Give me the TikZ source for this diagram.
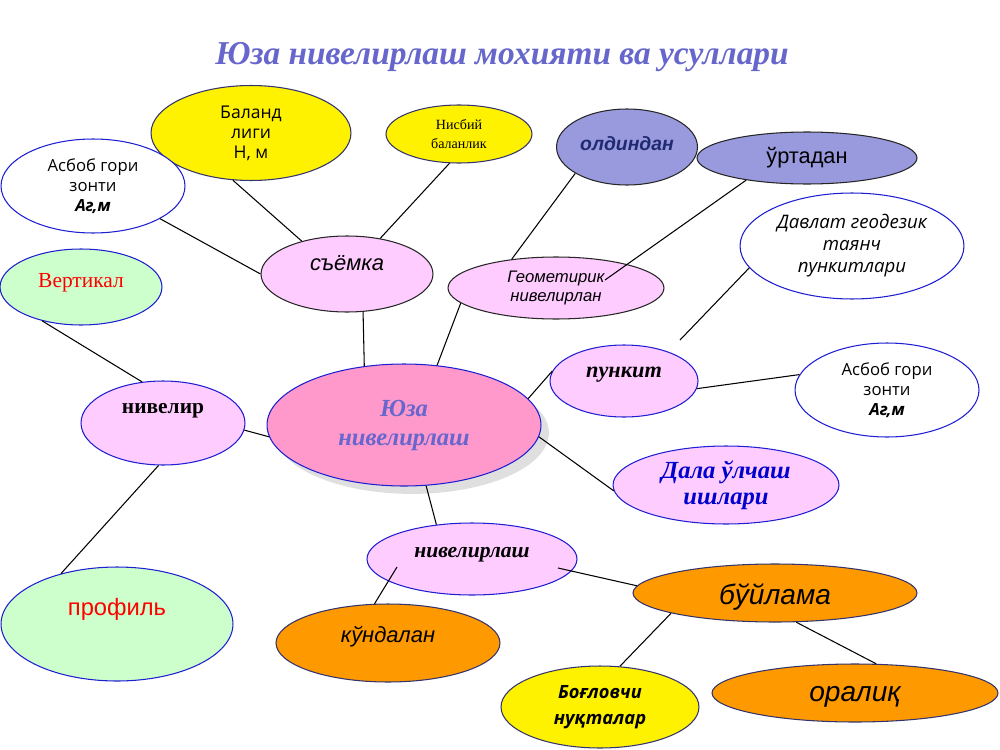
\documentclass[tikz,border=0pt]{standalone}
\usepackage{fontspec}
\setmainfont{Liberation Serif}
\newfontfamily\arialf{Liberation Sans}
\newfontfamily\opensf{Open Sans}
\usetikzlibrary{shapes.geometric, shadows}

\begin{document}
\begin{tikzpicture}[x=0.02cm, y=-0.02cm,
    bub/.style={ellipse, draw, line width=0.6pt, inner sep=0pt, align=center},
    link/.style={draw=black, line width=0.6pt}]

    % Define colors
    \definecolor{titleblue}{RGB}{102,102,204}
    \definecolor{edgeblue}{RGB}{30,30,210}
    \definecolor{edgenavy}{RGB}{51,51,110}
    \definecolor{pinkfill}{RGB}{255,204,255}
    \definecolor{corefill}{RGB}{255,153,204}
    \definecolor{greenfill}{RGB}{204,255,204}
    \definecolor{lilacfill}{RGB}{153,153,221}
    \definecolor{orangefill}{RGB}{255,153,0}
    \definecolor{navytext}{RGB}{31,42,112}
    \definecolor{dalatext}{RGB}{0,0,204}

    \useasboundingbox (0,0) rectangle (1000,750);

    % Title
    \node[text=titleblue, font=\fontsize{19}{22}\selectfont\bfseries\itshape] (title) at (502,57) {Юза нивелирлаш мохияти ва усуллари};

    % Nodes
    \node[bub, fill=corefill, draw=edgeblue, minimum width=5.48cm, minimum height=2.44cm,
          drop shadow={shadow xshift=4.5pt, shadow yshift=-4.5pt, fill=black!25},
          text=titleblue, font=\fontsize{14}{17}\selectfont\bfseries\itshape] (yuza) at (404,425)
          {\raisebox{9pt}{\begin{tabular}{@{}c@{}}Юза\\нивелирлаш\end{tabular}}};

    \node[bub, fill=yellow, draw=edgenavy, minimum width=4cm, minimum height=1.9cm,
          font=\opensf\fontsize{10}{11.4}\selectfont] (baland) at (251,133) {Баланд\\лиги\\Н, м};
    \node[bub, fill=white, draw=edgeblue, minimum width=3.68cm, minimum height=1.88cm,
          font=\opensf\fontsize{9.5}{11.3}\selectfont] (asbobL) at (93,186) {Асбоб гори\\зонти\\\textbf{\textit{Аг,м}}};
    \node[bub, fill=yellow, draw=edgenavy, minimum width=2.92cm, minimum height=1.16cm,
          font=\fontsize{8}{10.8}\selectfont] (nisbiy) at (459,134) {Нисбий\\баланлик};
    \node[bub, fill=lilacfill, draw=black!85, minimum width=2.82cm, minimum height=1.52cm,
          text=navytext, font=\arialf\fontsize{11}{13}\selectfont\bfseries\itshape] (oldindan) at (627,147) {\raisebox{4pt}{олдиндан}};
    \node[bub, fill=lilacfill, draw=black!85, minimum width=4.4cm, minimum height=1.04cm,
          font=\arialf\fontsize{12.4}{14}\selectfont] (urtadan) at (807,158) {ўртадан};
    \node[bub, fill=white, draw=edgeblue, minimum width=4.48cm, minimum height=2.12cm,
          font=\opensf\fontsize{10.6}{12.5}\selectfont\itshape] (davlat) at (852,246) {Давлат геодезик\\таянч\\пункитлари};
    \node[bub, fill=pinkfill, draw=black!85, minimum width=3.44cm, minimum height=1.52cm,
          font=\arialf\fontsize{12.5}{14}\selectfont\itshape] (syomka) at (347,274) {\raisebox{12pt}{съёмка}};
    \node[bub, fill=pinkfill, draw=black!85, minimum width=4.32cm, minimum height=1.24cm,
          font=\arialf\fontsize{9.5}{11.3}\selectfont\itshape] (geom) at (556,288) {Геометирик\\нивелирлан};
    \node[bub, fill=greenfill, draw=edgeblue, minimum width=3.24cm, minimum height=1.52cm,
          text=red, font=\fontsize{12.2}{14}\selectfont] (vertikal) at (81,287) {\raisebox{7pt}{Вертикал}};
    \node[bub, fill=pinkfill, draw=edgeblue, minimum width=3.28cm, minimum height=1.68cm,
          font=\fontsize{12.2}{14}\selectfont\bfseries] (nivelir) at (163,423) {\raisebox{17pt}{нивелир}};
    \node[bub, fill=pinkfill, draw=edgeblue, minimum width=2.96cm, minimum height=1.44cm,
          font=\fontsize{12.7}{14}\selectfont\bfseries\itshape] (punkt) at (624,381) {\raisebox{10pt}{пункит}};
    \node[bub, fill=white, draw=edgeblue, minimum width=3.68cm, minimum height=1.88cm,
          font=\opensf\fontsize{9.5}{11.3}\selectfont] (asbobR) at (887,390) {Асбоб гори\\зонти\\\textbf{\textit{Аг,м}}};
    \node[bub, fill=pinkfill, draw=edgeblue, minimum width=4.52cm, minimum height=1.56cm,
          text=dalatext, font=\fontsize{14}{14.7}\selectfont\bfseries\itshape] (dala) at (726,485) {Дала ўлчаш\\ишлари};
    \node[bub, fill=pinkfill, draw=edgeblue, minimum width=4.2cm, minimum height=1.44cm,
          font=\fontsize{12.3}{14}\selectfont\bfseries\itshape] (nivlash) at (472,559) {\raisebox{7pt}{нивелирлаш}};
    \node[bub, fill=greenfill, draw=edgeblue, minimum width=4.64cm, minimum height=2.28cm,
          text=red, font=\arialf\fontsize{13.5}{15}\selectfont] (profil) at (117,624) {\raisebox{20pt}{профиль}};
    \node[bub, fill=orangefill, draw=edgenavy, minimum width=4.48cm, minimum height=1.56cm,
          font=\arialf\fontsize{12.5}{14}\selectfont\itshape] (kundalan) at (388,643) {\raisebox{10pt}{кўндалан}};
    \node[bub, fill=orangefill, draw=edgenavy, minimum width=5.68cm, minimum height=1.16cm,
          font=\arialf\fontsize{16}{18}\selectfont\itshape] (buylama) at (775,593) {\raisebox{0pt}[\dimexpr\height+4.5pt\relax]{бўйлама}};
    \node[bub, fill=yellow, draw=edgenavy, minimum width=3.96cm, minimum height=1.64cm,
          font=\opensf\fontsize{10.4}{14.7}\selectfont\bfseries\itshape] (boglov) at (600,707) {Боғловчи\\нуқталар};
    \node[bub, fill=orangefill, draw=edgenavy, minimum width=5.72cm, minimum height=1.16cm,
          font=\arialf\fontsize{16}{18}\selectfont\itshape] (oraliq) at (855,693) {\raisebox{0pt}[\dimexpr\height+4.5pt\relax]{оралиқ}};

    % Connectors
    \draw[link] (baland.249) -- (syomka.144);
    \draw[link] (nisbiy.252) -- (syomka.47);
    \draw[link] (asbobL.334) -- (syomka.west);
    \draw[link] (syomka.293) -- (yuza.124);
    \draw[link] (oldindan.207) -- (geom.147);
    \draw[link] (urtadan.200) -- ([xshift=0.98cm, yshift=0.16cm]geom.center);
    \draw[link] (geom.189) -- (yuza.61);
    \draw[link] (vertikal.221) -- (nivelir.117);
    \draw[link] (nivelir.355) -- (yuza.185);
    \draw[link] (nivelir.264) -- (profil.138);
    \draw[link] (yuza.12) -- (punkt.172);
    \draw[link] (yuza.355) -- (dala.183);
    \draw[link] (davlat.192) -- ([xshift=1.12cm, yshift=0.82cm]punkt.center);
    \draw[link] (punkt.354) -- (asbobR.170);
    \draw[link] (yuza.290) -- (nivlash.136);
    \draw[link] ([xshift=-1.5cm, yshift=-0.16cm]nivlash.center) -- (kundalan.109);
    \draw[link] ([xshift=1.72cm, yshift=-0.18cm]nivlash.center) -- (buylama.177);
    \draw[link] (buylama.191) -- (boglov.64);
    \draw[link] (buylama.306) -- (oraliq.54);

\end{tikzpicture}
\end{document}
